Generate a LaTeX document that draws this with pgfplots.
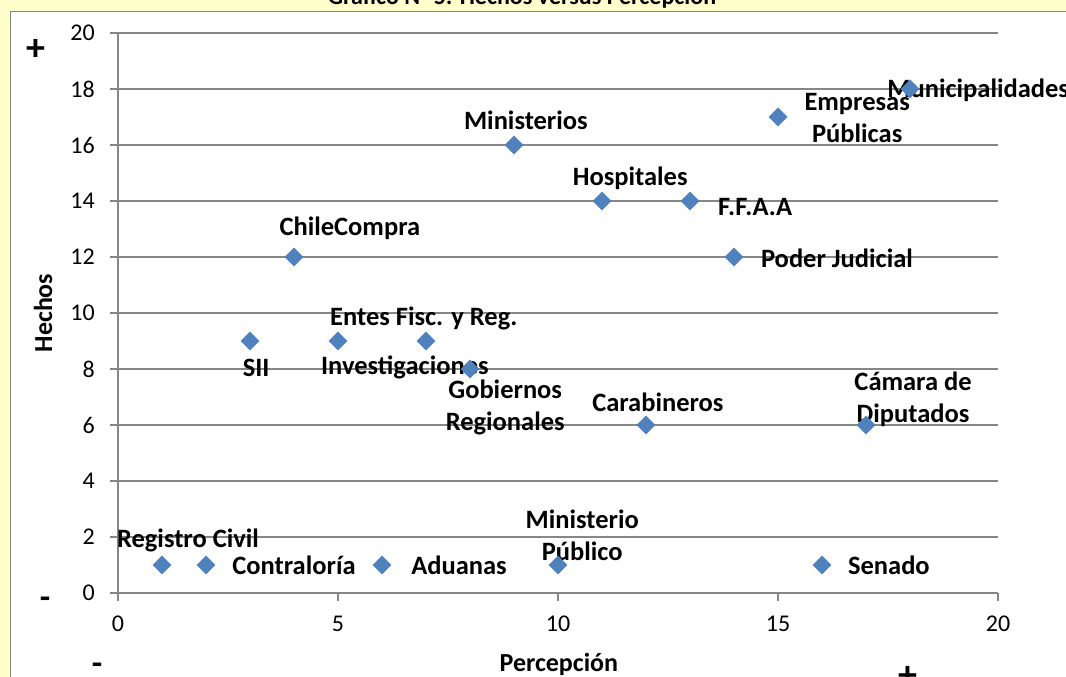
\documentclass[border=0pt]{standalone}
\usepackage{pgfplots}
\pgfplotsset{compat=1.18}
\usepackage{fontspec}
\setmainfont{Carlito}
\definecolor{bgyel}{HTML}{FFFFCC}
\definecolor{gridg}{HTML}{878787}
\definecolor{mk}{HTML}{4F81BD}
\begin{document}
\begin{tikzpicture}[x=1bp,y=1bp]
\fill[bgyel] (0,0) rectangle (1066,677);
\filldraw[fill=white,draw=gridg,line width=1bp] (10,-20) rectangle (1090,665);
\node[font=\bfseries\fontsize{24bp}{28bp}\selectfont,anchor=base] at (522,672) {Gráfico N° 5: Hechos versus Percepción};
\begin{axis}[
  at={(118bp,84bp)}, anchor=south west,
  scale only axis, width=880bp, height=560bp,
  xmin=0, xmax=20, ymin=0, ymax=20,
  xtick={0,5,10,15,20}, ytick={0,2,...,20},
  axis x line*=bottom, axis y line*=left,
  axis line style={draw=gridg, line width=1.5bp, -},
  tick align=outside, major tick length=8bp,
  tick style={draw=gridg, line width=1.5bp},
  ymajorgrids, grid style={draw=gridg, line width=1.5bp},
  /pgf/number format/assume math mode=true,
  tick label style={font=\fontsize{24bp}{28bp}\selectfont, inner sep=0pt},
  yticklabel style={xshift=-15bp},
  xticklabel style={yshift=-15bp},
  xlabel={Percepción}, ylabel={Hechos},
  label style={font=\bfseries\fontsize{26bp}{30bp}\selectfont},
  xlabel style={at={(axis description cs:0.501,-0.127)}, anchor=center, inner sep=0pt},
  ylabel style={at={(axis description cs:-0.085,0.5)}, anchor=center, rotate=0, inner sep=0pt},
  clip=false,
]
\addplot[only marks, mark=square*, mark size=6.5bp, mark options={rotate=45, fill=mk, draw=mk}] coordinates {
(1,1) (2,1) (3,9) (4,12) (5,9) (6,1) (7,9) (8,8) (9,16) (10,1)
(11,14) (12,6) (13,14) (14,12) (15,17) (16,1) (17,6) (18,18)
};
\begin{scope}[every node/.style={font=\bfseries\fontsize{26.5bp}{32bp}\selectfont, inner sep=0pt, align=center}]
\node at (axis cs:1.59,1.86) {Registro Civil};
\node at (axis cs:4.0,1.0) {Contraloría};
\node at (axis cs:7.75,1.0) {Aduanas};
\node at (axis cs:10.55,2.07) {Ministerio\\Público};
\node at (axis cs:17.52,1.0) {Senado};
\node at (axis cs:3.14,8.04) {SII};
\node at (axis cs:5.27,13.04) {ChileCompra};
\node at (axis cs:6.95,9.82) {Entes Fisc. y Reg.};
\node at (axis cs:6.52,8.04) {Investigaciones};
\node at (axis cs:8.8,6.64) {Gobiernos\\Regionales};
\node at (axis cs:9.27,16.89) {Ministerios};
\node at (axis cs:11.64,14.82) {Hospitales};
\node at (axis cs:12.27,6.82) {Carabineros};
\node at (axis cs:14.48,13.79) {F.F.A.A};
\node at (axis cs:16.34,11.96) {Poder Judicial};
\node at (axis cs:16.8,16.96) {Empresas\\Públicas};
\node at (axis cs:18.07,6.93) {Cámara de\\Diputados};
\node at (axis cs:19.55,17.96) {Municipalidades};
\end{scope}
\end{axis}
\node[font=\bfseries\fontsize{38bp}{40bp}\selectfont] at (36,627) {+};
\node[font=\bfseries\fontsize{34bp}{40bp}\selectfont] at (45,74) {-};
\node[font=\bfseries\fontsize{34bp}{40bp}\selectfont] at (97,8) {-};
\node[font=\bfseries\fontsize{38bp}{40bp}\selectfont] at (908,0) {+};
\pgfresetboundingbox
\useasboundingbox (0,0) rectangle (1066,677);
\end{tikzpicture}
\end{document}
